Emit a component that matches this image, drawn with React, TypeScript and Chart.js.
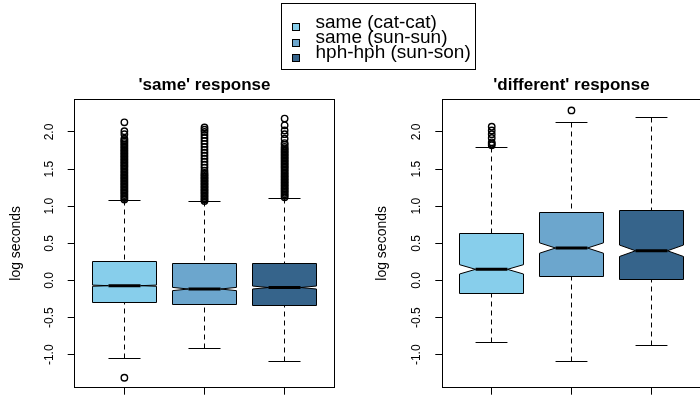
import React, { useEffect, useRef } from "react";
import { Chart, registerables } from "chart.js";

Chart.register(...registerables);

const FONT = "'Liberation Sans', Arial, Helvetica, sans-serif";
Chart.defaults.font.family = FONT;

// ---------- data ----------
const groups = ["same (cat-cat)", "same (sun-sun)", "hph-hph (sun-son)"];
const boxColors = ["#87CEEB", "#6CA6CD", "#36648B"];
const xPositions = [1, 2, 3];
const yTicks = [-1.0, -0.5, 0.0, 0.5, 1.0, 1.5, 2.0];
const yLimits = [-1.444, 2.444];
const xLimits = [0.38, 3.62];

// 'same' response
const sameLowerWhisker = [-1.05, -0.91, -1.09];
const sameQ1 = [-0.29, -0.33, -0.34];
const sameMedian = [-0.07, -0.115, -0.095];
const sameQ3 = [0.26, 0.235, 0.235];
const sameUpperWhisker = [1.08, 1.06, 1.11];
const sameNotchHalf = [0.008, 0.022, 0.02];
const sameOutliers1 = [
  -1.31, 1.09, 1.11, 1.13, 1.15, 1.17, 1.19, 1.21, 1.23, 1.25, 1.27, 1.29, 1.31,
  1.33, 1.35, 1.37, 1.39, 1.41, 1.43, 1.45, 1.47, 1.49, 1.51, 1.53, 1.55, 1.57,
  1.59, 1.61, 1.63, 1.65, 1.67, 1.69, 1.71, 1.73, 1.75, 1.77, 1.79, 1.81, 1.83,
  1.85, 1.87, 1.89, 1.91, 1.97, 2.01, 2.13,
];
const sameOutliers2 = [
  1.07, 1.09, 1.11, 1.13, 1.15, 1.17, 1.19, 1.21, 1.23, 1.25, 1.27, 1.29, 1.31,
  1.33, 1.35, 1.37, 1.39, 1.41, 1.43, 1.45, 1.48, 1.52, 1.56, 1.6, 1.64, 1.68,
  1.72, 1.76, 1.8, 1.84, 1.88, 1.92, 1.96, 2.0, 2.03, 2.06,
];
const sameOutliers3 = [
  1.12, 1.14, 1.16, 1.18, 1.2, 1.22, 1.24, 1.26, 1.28, 1.3, 1.32, 1.34, 1.36,
  1.38, 1.4, 1.42, 1.44, 1.46, 1.48, 1.5, 1.52, 1.54, 1.56, 1.58, 1.6, 1.62,
  1.64, 1.66, 1.68, 1.7, 1.72, 1.74, 1.76, 1.78, 1.8, 1.83, 1.85, 1.91, 1.97,
  2.02, 2.09, 2.18,
];

// 'different' response
const diffLowerWhisker = [-0.83, -1.09, -0.87];
const diffQ1 = [-0.175, 0.06, 0.01];
const diffMedian = [0.15, 0.437, 0.4];
const diffQ3 = [0.63, 0.92, 0.945];
const diffUpperWhisker = [1.795, 2.13, 2.2];
const diffNotchHalf = [0.063, 0.07, 0.077];
const diffOutliers1 = [1.82, 1.84, 1.86, 1.92, 1.97, 2.02, 2.07];
const diffOutliers2 = [2.29];
const diffOutliers3: number[] = [];

type Stats = {
  lower: number[];
  q1: number[];
  med: number[];
  q3: number[];
  upper: number[];
  notch: number[];
};

const snap = (v: number) => Math.round(v - 0.5) + 0.5;

function makeBoxPlugin(st: Stats) {
  return {
    id: "notchedBoxes",
    beforeDatasetsDraw(chart: any) {
      const { ctx } = chart;
      const x = chart.scales.x;
      const y = chart.scales.y;
      ctx.save();
      ctx.strokeStyle = "#000";
      for (let i = 0; i < xPositions.length; i++) {
        const xv = xPositions[i];
        const cx = snap(x.getPixelForValue(xv));
        const hw = x.getPixelForValue(xv + 0.4) - x.getPixelForValue(xv);
        const nw = hw / 2;
        const cw = x.getPixelForValue(xv + 0.2) - x.getPixelForValue(xv);
        const pL = snap(y.getPixelForValue(st.lower[i]));
        const pU = snap(y.getPixelForValue(st.upper[i]));
        const pQ1 = snap(y.getPixelForValue(st.q1[i]));
        const pQ3 = snap(y.getPixelForValue(st.q3[i]));
        const pM = y.getPixelForValue(st.med[i]);
        const pNlo = y.getPixelForValue(st.med[i] - st.notch[i]);
        const pNhi = y.getPixelForValue(st.med[i] + st.notch[i]);
        const left = snap(cx - hw);
        const right = snap(cx + hw);

        // whiskers (dashed)
        ctx.lineWidth = 1;
        ctx.setLineDash([5, 4]);
        ctx.beginPath();
        ctx.moveTo(cx, pU);
        ctx.lineTo(cx, pQ3);
        ctx.moveTo(cx, pL);
        ctx.lineTo(cx, pQ1);
        ctx.stroke();
        ctx.setLineDash([]);

        // staples
        ctx.beginPath();
        ctx.moveTo(cx - cw, pU);
        ctx.lineTo(cx + cw, pU);
        ctx.moveTo(cx - cw, pL);
        ctx.lineTo(cx + cw, pL);
        ctx.stroke();

        // notched box
        ctx.beginPath();
        ctx.moveTo(left, pQ1);
        ctx.lineTo(left, pNlo);
        ctx.lineTo(cx - nw, pM);
        ctx.lineTo(left, pNhi);
        ctx.lineTo(left, pQ3);
        ctx.lineTo(right, pQ3);
        ctx.lineTo(right, pNhi);
        ctx.lineTo(cx + nw, pM);
        ctx.lineTo(right, pNlo);
        ctx.lineTo(right, pQ1);
        ctx.closePath();
        ctx.fillStyle = boxColors[i];
        ctx.fill();
        ctx.stroke();

        // median
        ctx.lineWidth = 3;
        ctx.beginPath();
        ctx.moveTo(cx - nw, pM);
        ctx.lineTo(cx + nw, pM);
        ctx.stroke();
      }
      ctx.restore();
    },
    afterDraw(chart: any) {
      const { ctx, chartArea } = chart;
      const y = chart.scales.y;
      ctx.save();
      ctx.strokeStyle = "#000";
      ctx.lineWidth = 1;
      const l = snap(chartArea.left);
      const r = snap(chartArea.right);
      const t = snap(chartArea.top);
      const b = snap(chartArea.bottom);
      ctx.strokeRect(l, t, r - l, b - t);
      // rotated y tick labels
      ctx.fillStyle = "#000";
      ctx.font = `12px ${FONT}`;
      ctx.textAlign = "center";
      ctx.textBaseline = "middle";
      for (const v of yTicks) {
        const py = y.getPixelForValue(v);
        ctx.save();
        ctx.translate(chartArea.left - 25.5, py);
        ctx.rotate(-Math.PI / 2);
        ctx.fillText(v.toFixed(1), 0, 0);
        ctx.restore();
      }
      ctx.restore();
    },
  };
}

function outlierData(lists: number[][]) {
  const pts: { x: number; y: number }[] = [];
  lists.forEach((list, i) => {
    list.forEach((v) => pts.push({ x: xPositions[i], y: v }));
  });
  return pts;
}

function buildConfig(
  title: string,
  st: Stats,
  outliers: number[][],
  padLeft: number,
  padRight: number,
  axisWidth: number
): any {
  return {
    type: "scatter",
    data: {
      datasets: [
        {
          data: outlierData(outliers),
          pointStyle: "circle",
          pointRadius: 3.2,
          borderWidth: 1.4,
          borderColor: "#000",
          backgroundColor: "rgba(0,0,0,0)",
        },
      ],
    },
    options: {
      responsive: false,
      animation: false,
      events: [],
      layout: { padding: { left: padLeft, right: padRight, top: 0, bottom: 0 } },
      plugins: {
        legend: { display: false },
        tooltip: { enabled: false },
        title: {
          display: true,
          text: title,
          fullSize: false,
          color: "#000",
          font: { size: 17, weight: "bold", family: FONT, lineHeight: 1.2 },
          padding: { top: 74.8, bottom: 3.8 },
        },
      },
      scales: {
        x: {
          type: "linear",
          min: xLimits[0],
          max: xLimits[1],
          afterBuildTicks: (s: any) => {
            s.ticks = xPositions.map((v) => ({ value: v }));
          },
          afterFit: (s: any) => {
            s.height = 7.3;
          },
          ticks: { display: false },
          grid: { drawOnChartArea: false, tickLength: 7, color: "#000", lineWidth: 1 },
          border: { display: false },
        },
        y: {
          type: "linear",
          min: yLimits[0],
          max: yLimits[1],
          afterBuildTicks: (s: any) => {
            s.ticks = yTicks.map((v) => ({ value: v }));
          },
          afterFit: (s: any) => {
            s.width = axisWidth;
          },
          ticks: { display: false },
          grid: { drawOnChartArea: false, tickLength: 7, color: "#000", lineWidth: 1 },
          border: { display: false },
          title: {
            display: true,
            text: "log seconds",
            color: "#000",
            font: { size: 14, family: FONT, lineHeight: 1.2 },
            padding: { top: 7.6, bottom: 0 },
          },
        },
      },
    },
    plugins: [makeBoxPlugin(st)],
  };
}

function Panel(props: {
  config: any;
  left: number;
  width: number;
}) {
  const ref = useRef<HTMLCanvasElement | null>(null);
  useEffect(() => {
    if (!ref.current) return;
    const chart = new Chart(ref.current, props.config);
    return () => chart.destroy();
  }, []);
  return (
    <canvas
      ref={ref}
      width={props.width}
      height={395}
      style={{ position: "absolute", left: props.left, top: 0, width: props.width, height: 395 }}
    />
  );
}

const legendRows = [23.3, 38.5, 53.8];

export default function App() {
  const sameConfig = buildConfig(
    "'same' response",
    {
      lower: sameLowerWhisker,
      q1: sameQ1,
      med: sameMedian,
      q3: sameQ3,
      upper: sameUpperWhisker,
      notch: sameNotchHalf,
    },
    [sameOutliers1, sameOutliers2, sameOutliers3],
    0,
    15.7,
    74.7
  );
  const diffConfig = buildConfig(
    "'different' response",
    {
      lower: diffLowerWhisker,
      q1: diffQ1,
      med: diffMedian,
      q3: diffQ3,
      upper: diffUpperWhisker,
      notch: diffNotchHalf,
    },
    [diffOutliers1, diffOutliers2, diffOutliers3],
    16,
    3.7,
    76.3
  );
  return (
    <div
      style={{
        position: "fixed",
        left: 0,
        top: 0,
        width: 700,
        height: 395,
        overflow: "hidden",
        background: "#fff",
      }}
    >
      <Panel config={sameConfig} left={0} width={350} />
      <Panel config={diffConfig} left={350} width={356} />
      <div
        style={{
          position: "absolute",
          left: 281,
          top: 2.5,
          width: 195,
          height: 67,
          border: "1px solid #000",
          boxSizing: "border-box",
          fontFamily: FONT,
          fontSize: 19,
          color: "#000",
        }}
      >
        {groups.map((g, i) => (
          <React.Fragment key={g}>
            <span
              style={{
                position: "absolute",
                left: 291.5 - 282,
                top: legendRows[i] - 3.5,
                width: 8,
                height: 8,
                boxSizing: "border-box",
                border: "1px solid #000",
                background: boxColors[i],
              }}
            />
            <span
              style={{
                position: "absolute",
                left: 315.5 - 282,
                top: legendRows[i] - 3.5 - 9.6,
                height: 16,
                lineHeight: "16px",
                whiteSpace: "nowrap",
              }}
            >
              {g}
            </span>
          </React.Fragment>
        ))}
      </div>
    </div>
  );
}
